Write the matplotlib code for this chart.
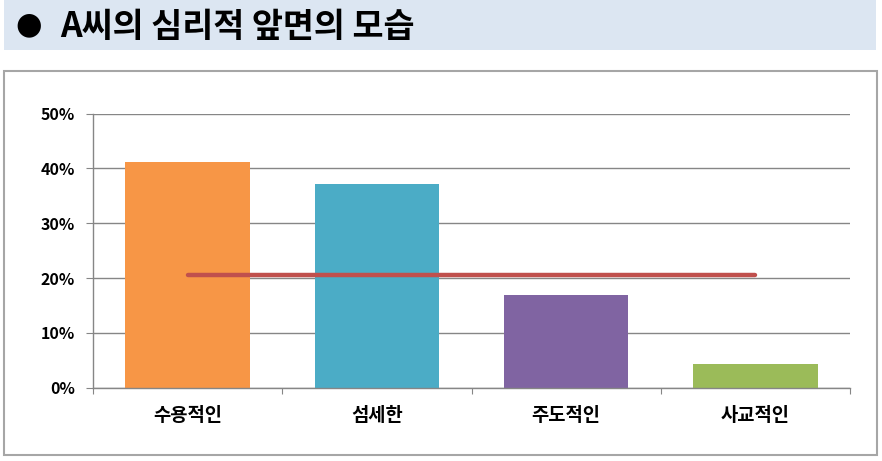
import matplotlib
matplotlib.use("Agg")
import matplotlib.pyplot as plt
from matplotlib.patches import Rectangle

plt.rcParams['font.family'] = ['Noto Sans CJK KR', 'DejaVu Sans']

# data
categories = ['수용적인', '섬세한', '주도적인', '사교적인']
values = [0.412, 0.372, 0.170, 0.043]
bar_colors = ['#F79646', '#4BACC6', '#8064A2', '#9BBB59']
average = [0.205, 0.205, 0.205, 0.205]
y_ticks = [0.0, 0.1, 0.2, 0.3, 0.4, 0.5]
y_labels = ['0%', '10%', '20%', '30%', '40%', '50%']
title = 'A씨의 심리적 앞면의 모습'

W, H = 882, 461
fig = plt.figure(figsize=(W / 100, H / 100), dpi=100)

# title band
fig.patches.append(Rectangle((4 / W, 1 - 50 / H), 872 / W, 50 / H,
                             transform=fig.transFigure, facecolor='#DCE6F2',
                             edgecolor='none', zorder=0))
fig.text(29 / W, 1 - 25 / H, '●', fontsize=22, ha='center', va='center',
         family=['DejaVu Sans'], color='black')
fig.text(60 / W, 1 - 26 / H, title, fontsize=24.3, fontweight='bold',
         ha='left', va='center', color='black')

# chart frame
fig.patches.append(Rectangle((4 / W, 1 - 455 / H), 873 / W, 384 / H,
                             transform=fig.transFigure, facecolor='white',
                             edgecolor='#A6A6A6', linewidth=1.5, zorder=0))

left, right, top, bottom = 93, 850, 113.7, 387.7
ax = fig.add_axes([left / W, 1 - bottom / H, (right - left) / W, (bottom - top) / H])
ax.set_zorder(5)
ax.set_facecolor('none')

x = range(len(categories))
ax.bar(x, values, width=0.657, color=bar_colors, linewidth=0, zorder=2)
ax.plot(x, average, color='#C0504D', linewidth=3.2, solid_capstyle='round', zorder=3)

ax.set_xlim(-0.5, 3.5)
ax.set_ylim(0, 0.5)

ax.set_yticks(y_ticks)
ax.set_yticklabels(y_labels)
ax.yaxis.grid(True, color='#868686', linewidth=1)
ax.set_axisbelow(True)
ax.tick_params(axis='y', length=5, color='#868686', pad=8, labelsize=11.5)
for lab in ax.get_yticklabels():
    lab.set_fontweight('bold')

ax.set_xticks([-0.5, 0.5, 1.5, 2.5, 3.5])
ax.set_xticklabels([])
ax.set_xticks(list(x), minor=True)
ax.set_xticklabels(categories, minor=True, fontsize=13.5, fontweight='bold')
ax.tick_params(axis='x', which='major', length=4, color='#868686')
ax.tick_params(axis='x', which='minor', length=0, pad=13)

for side in ['top', 'right']:
    ax.spines[side].set_visible(False)
for side in ['left', 'bottom']:
    ax.spines[side].set_color('#868686')
    ax.spines[side].set_linewidth(1)

fig.savefig('out.png', dpi=100)
